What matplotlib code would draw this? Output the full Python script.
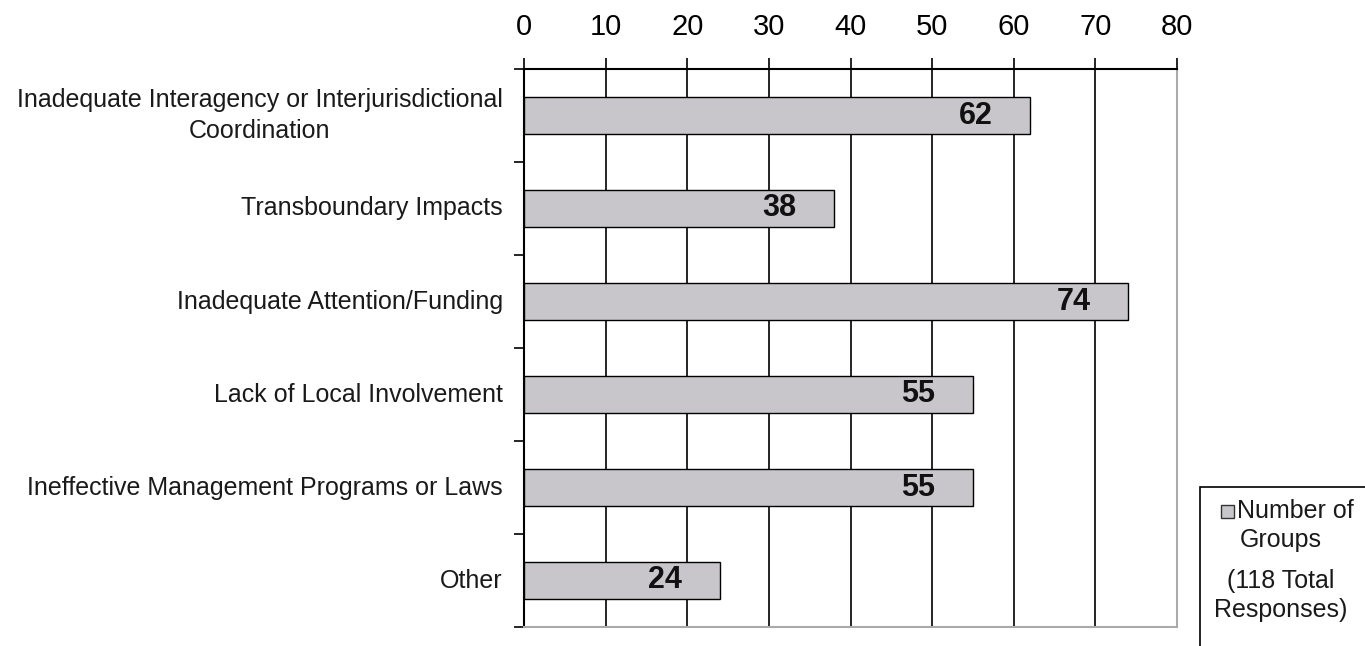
import matplotlib
matplotlib.use('Agg')
import matplotlib.pyplot as plt
from matplotlib.patches import Rectangle

plt.rcParams['font.family'] = ['Liberation Sans', 'DejaVu Sans']

categories = ['Inadequate Interagency or Interjurisdictional\nCoordination',
              'Transboundary Impacts',
              'Inadequate Attention/Funding',
              'Lack of Local Involvement',
              'Ineffective Management Programs or Laws',
              'Other']
values = [62, 38, 74, 55, 55, 24]
xticks = [0, 10, 20, 30, 40, 50, 60, 70, 80]

fig = plt.figure(figsize=(13.65, 6.46), dpi=100)
ax = fig.add_axes([524/1365, 1 - 627/646, (1177 - 524)/1365, (627 - 69)/646])

pos = list(range(len(categories)))
ax.barh(pos, values, height=0.4, color='#c8c6ca', edgecolor='black', linewidth=1, zorder=3)
ax.set_ylim(len(categories) - 0.5, -0.5)
ax.set_xlim(0, 80)

ax.set_xticks(xticks)
ax.xaxis.tick_top()
ax.tick_params(axis='x', direction='out', length=8, width=1.2, labelsize=21, pad=12, colors='black')
ax.grid(axis='x', color='black', linewidth=1.2, zorder=1)

ax.set_yticks([p - 0.5 for p in pos] + [len(pos) - 0.5])
ax.set_yticklabels([])
ax.tick_params(axis='y', direction='out', length=7, width=1.2)
for p, c in zip(pos, categories):
    ax.text(-2.6, p, c, ha='right', va='center', fontsize=18, color='#1a1a1a',
            multialignment='center', linespacing=1.35)

for p, v in zip(pos, values):
    ax.text(v - 6.7, p, str(v), ha='center', va='center', fontsize=22,
            fontweight='bold', color='#111111', zorder=4)

ax.spines['top'].set_color('black')
ax.spines['top'].set_linewidth(1.5)
ax.spines['left'].set_color('black')
ax.spines['left'].set_linewidth(1.5)
ax.spines['right'].set_color('#aaaaaa')
ax.spines['right'].set_linewidth(1.5)
ax.spines['bottom'].set_color('#aaaaaa')
ax.spines['bottom'].set_linewidth(1.5)

# legend box
W, H = 1365, 646
fig.patches.append(Rectangle((1200/W, -0.05), 0.2, 1 - 487/646 + 0.05, transform=fig.transFigure,
                             facecolor='white', edgecolor='black', linewidth=1.2))
fig.patches.append(Rectangle((1221/W, 1 - 518/H), 13/W, 13/H, transform=fig.transFigure,
                             facecolor='#c8c6ca', edgecolor='#333333', linewidth=1))
fig.text(1237/W, 1 - 511/H, 'Number of', ha='left', va='center', fontsize=18, color='#1a1a1a')
fig.text(1281/W, 1 - 540/H, 'Groups', ha='center', va='center', fontsize=18, color='#1a1a1a')
fig.text(1281/W, 1 - 581/H, '(118 Total', ha='center', va='center', fontsize=18, color='#1a1a1a')
fig.text(1281/W, 1 - 610/H, 'Responses)', ha='center', va='center', fontsize=18, color='#1a1a1a')

fig.savefig('out.png', dpi=100)
